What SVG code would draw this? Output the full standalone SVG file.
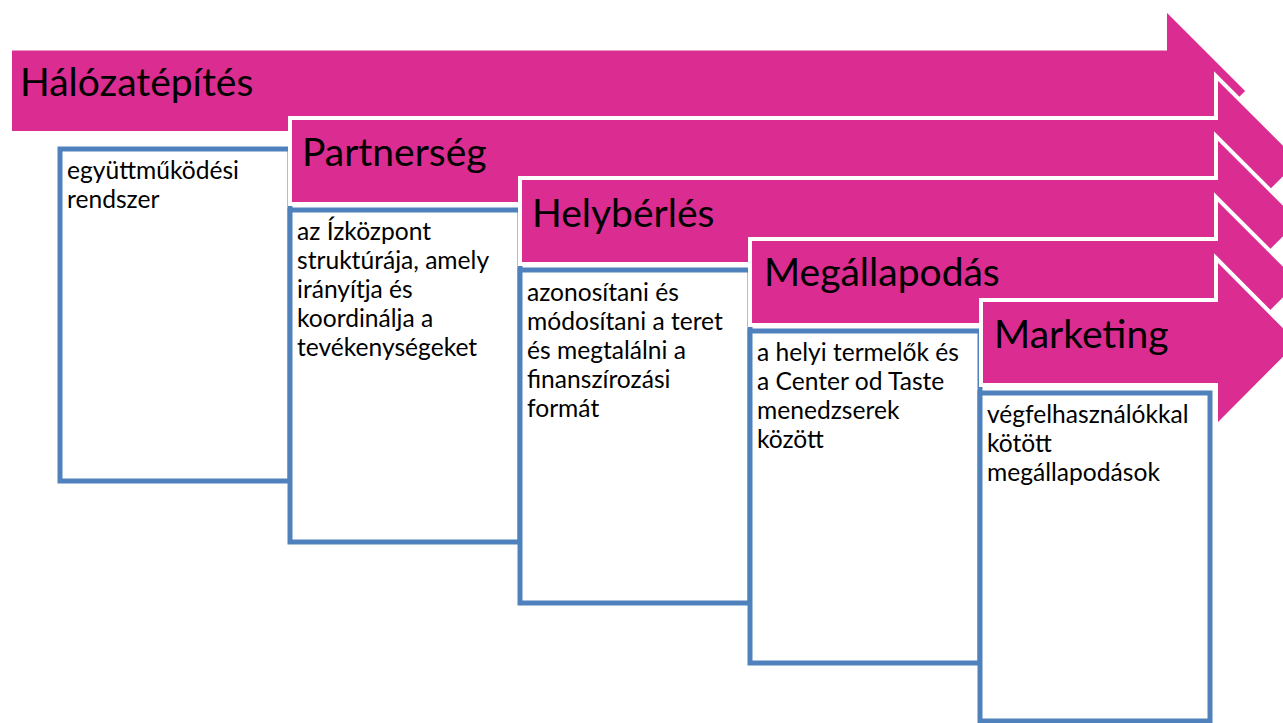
<svg xmlns="http://www.w3.org/2000/svg" width="1283" height="723" viewBox="0 0 1283 723">
<style>
.arrow{fill:#DA2C91;stroke:#FFFFFF;stroke-width:4;stroke-linejoin:miter}
.box{fill:#FFFFFF;stroke:#4F81BD;stroke-width:5}
.h{font-family:Lato,"Liberation Sans",sans-serif;font-size:39px;fill:#000000}
.t{font-family:Lato,"Liberation Sans",sans-serif;font-size:24.6px;fill:#000000}
</style>
<rect width="1283" height="723" fill="#FFFFFF"/>
<g id="step1">
<path class="arrow" d="M10,48.5 H1165 V8 L1248,91 L1165,174 V133 H10 Z"/>
<rect class="box" x="60" y="149" width="230" height="332"/>
<text class="h" x="20" y="96">Hálózatépítés</text>
<text class="t" x="67" y="179">együttműködési</text>
<text class="t" x="67" y="208">rendszer</text>
</g>
<g id="step2">
<path class="arrow" d="M290,118 H1216 V76 L1301,161 L1216,246 V204 H290 Z"/>
<rect class="box" x="290" y="210" width="230" height="332"/>
<text class="h" x="302" y="166">Partnerség</text>
<text class="t" x="297" y="240">az Ízközpont</text>
<text class="t" x="297" y="269">struktúrája, amely</text>
<text class="t" x="297" y="298">irányítja és</text>
<text class="t" x="297" y="327">koordinálja a</text>
<text class="t" x="297" y="356">tevékenységeket</text>
</g>
<g id="step3">
<path class="arrow" d="M520,178 H1216 V136 L1301,221 L1216,306 V264 H520 Z"/>
<rect class="box" x="520" y="270" width="230" height="333"/>
<text class="h" x="532" y="227">Helybérlés</text>
<text class="t" x="527" y="301">azonosítani és</text>
<text class="t" x="527" y="330">módosítani a teret</text>
<text class="t" x="527" y="359">és megtalálni a</text>
<text class="t" x="527" y="388">finanszírozási</text>
<text class="t" x="527" y="417">formát</text>
</g>
<g id="step4">
<path class="arrow" d="M750,239 H1216 V197 L1301,282 L1216,367 V325 H750 Z"/>
<rect class="box" x="750" y="331" width="230" height="332"/>
<text class="h" x="764" y="286">Megállapodás</text>
<text class="t" x="757" y="361">a helyi termelők és</text>
<text class="t" x="757" y="390">a Center od Taste</text>
<text class="t" x="757" y="419">menedzserek</text>
<text class="t" x="757" y="448">között</text>
</g>
<g id="step5">
<path class="arrow" d="M981,300 H1216 V258 L1300,342.5 L1216,427 V385 H981 Z"/>
<rect class="box" x="980" y="393" width="230" height="328"/>
<text class="h" x="994" y="348">Marketing</text>
<text class="t" x="987" y="423">végfelhasználókkal</text>
<text class="t" x="987" y="452">kötött</text>
<text class="t" x="987" y="481">megállapodások</text>
</g>
<g id="connectors"></g>
</svg>
